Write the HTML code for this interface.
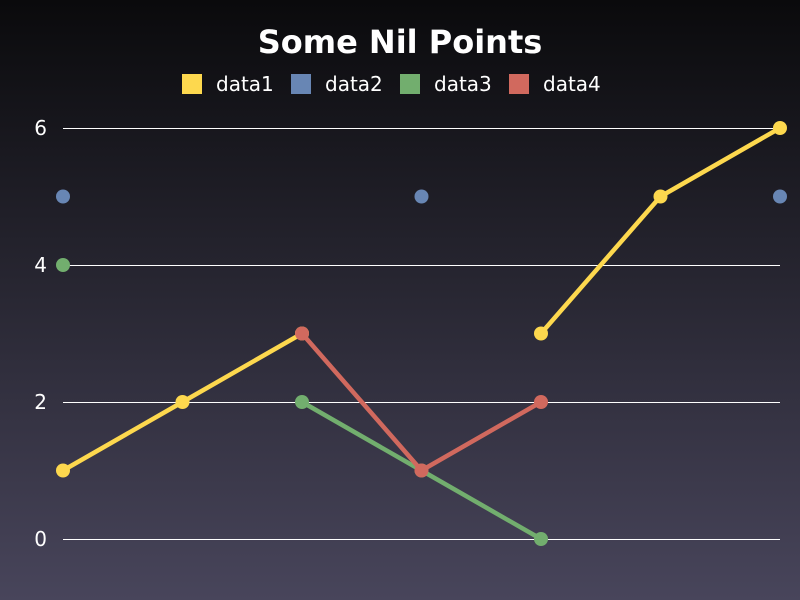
<!DOCTYPE html>
<html><head><meta charset="utf-8"><style>
html,body{margin:0;padding:0;width:800px;height:600px;overflow:hidden}
svg{display:block}
text{font-family:"DejaVu Sans","Liberation Sans",sans-serif;fill:#fff}
</style></head><body>
<svg id="chart" width="800" height="600" xmlns="http://www.w3.org/2000/svg">
<defs><linearGradient id="bg" x1="0" y1="0" x2="0" y2="1">
<stop offset="0" stop-color="#0a0a0c"/><stop offset="1" stop-color="#48455b"/></linearGradient></defs>
<rect width="800" height="600" fill="url(#bg)"/>
<text x="400" y="53" text-anchor="middle" font-size="32" font-weight="bold">Some Nil Points</text>
<g id="grid"></g><g id="legend"></g><g id="series"></g>
</svg>
<script>
const categories = [0,1,2,3,4,5,6];
const seriesNames = ["data1","data2","data3","data4"];
const data1 = [1,2,3,null,3,5,6];
const data2 = [5,null,null,5,null,null,5];
const data3 = [4,null,2,1,0,null,null];
const data4 = [null,null,3,1,2,null,null];
const yTicks = [0,2,4,6];
const colors = ["#fdd84e","#6886b4","#72ae6e","#d1695e"];
const NS="http://www.w3.org/2000/svg";
const x0=63,x1=780,yBase=539,yTop=128,yMax=6;
function xs(i){return x0+i*(x1-x0)/(categories.length-1);}
function ys(v){return yBase-v*(yBase-yTop)/yMax;}
function mk(tag,attrs,parent){const e=document.createElementNS(NS,tag);for(const k in attrs)e.setAttribute(k,attrs[k]);parent.appendChild(e);return e;}
const grid=document.getElementById('grid');
yTicks.forEach(t=>{
  const yy=Math.round(ys(t))+0.5;
  const l=mk('line',{x1:x0,x2:x1,y1:yy,y2:yy,stroke:'#fff','stroke-width':1},grid);
  
  
  const tx=mk('text',{x:47,y:ys(t)+7,'text-anchor':'end','font-size':20},grid);
  tx.textContent=t;
  
  
});
const legend=document.getElementById('legend');
const lx=[182,291,400,509];
seriesNames.forEach((n,i)=>{
  const g=mk('g',{},legend);
  
  
  mk('rect',{x:lx[i],y:74,width:20,height:20,fill:colors[i]},g);
  const t=mk('text',{x:lx[i]+34,y:91,'font-size':20},g);
  t.textContent=n;
});
const ser=document.getElementById('series');
[data1,data2,data3,data4].forEach((d,si)=>{
  const g=mk('g',{},ser);
  
  
  for(let i=0;i<d.length-1;i++){
    if(d[i]!=null&&d[i+1]!=null){
      const l=mk('line',{x1:xs(i),y1:ys(d[i]),x2:xs(i+1),y2:ys(d[i+1]),stroke:colors[si],'stroke-width':4.5,'stroke-linecap':'round'},g);
      
      
    }
  }
  d.forEach((v,i)=>{
    if(v==null)return;
    const c=mk('circle',{cx:xs(i),cy:ys(v),r:7,fill:colors[si]},g);
    
    
  });
});
</script>
</body></html>
